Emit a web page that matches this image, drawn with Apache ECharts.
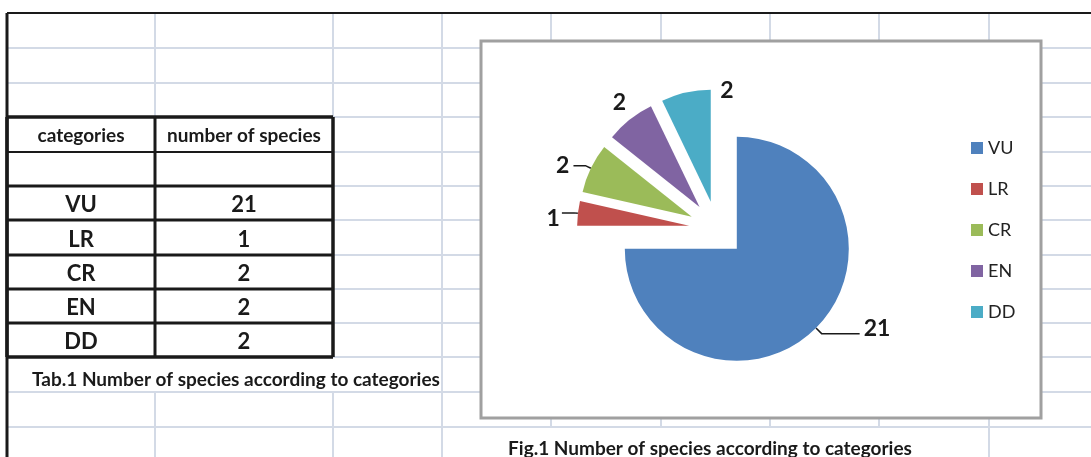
<!DOCTYPE html>
<html style="height: 100%">
<head>
    <meta charset="utf-8">
</head>
<body style="height: 100%; margin: 0; background: #fff">
<div id="container" style="height: 100%"></div>
<script src="https://cdn.jsdelivr.net/npm/echarts@6/dist/echarts.min.js"></script>
<script>
var categories = ['VU', 'LR', 'CR', 'EN', 'DD'];
var speciesCount = [21, 1, 2, 2, 2];
var tableHeader = ['categories', 'number of species'];
var tableCaption = 'Tab.1 Number of species according to categories';
var chartCaption = 'Fig.1 Number of species according to categories';

var sliceColors = ['#4f81bd', '#c0504d', '#9bbb59', '#8064a2', '#4bacc6'];
// label leader per slice [length, length2, show] and a small nudge [dx, dy]
var labelLines = [[8, 38, true], [4, 12, true], [6, 12, true], [14, 0, false], [10, 0, false]];
var labelNudge = [[0, -5], [2, 6], [0, 0], [9, -6], [54, 8]];

// spreadsheet layout in pixels
var colX = [7, 155, 333, 442, 551, 661, 770, 879, 989, 1098];
var rowY = [13, 48, 83, 117, 152, 186, 220, 255, 289, 323, 357, 392, 427, 461];
var gridColor = '#d3dae6';
var inkColor = '#1a1a1a';
var fontName = 'Lato';

var dom = document.getElementById('container');
var myChart = echarts.init(dom);
var elements = [];

function seg(x1, y1, x2, y2, color, w, z) {
    elements.push({
        type: 'line', silent: true, z: z,
        shape: {x1: x1, y1: y1, x2: x2, y2: y2},
        style: {stroke: color, lineWidth: w}
    });
}
function label(text, x, y, size, align) {
    elements.push({
        type: 'text', silent: true, z: 1,
        style: {
            text: text, x: x, y: y, fill: inkColor,
            font: 'bold ' + size + 'px ' + fontName,
            textAlign: align || 'center', textVerticalAlign: 'middle'
        }
    });
}

// sheet gridlines
for (var i = 1; i < rowY.length - 1; i++) {
    seg(colX[0], rowY[i], 1091, rowY[i], gridColor, 2, 0);
}
for (var r = 0; r < rowY.length - 1; r++) {
    for (var j = 1; j < colX.length - 1; j++) {
        if (r == 10 && j <= 2) continue;            // table caption overflows
        if (r == 12 && j >= 4 && j <= 7) continue;  // chart caption overflows
        seg(colX[j], rowY[r], colX[j], rowY[r + 1], gridColor, 2, 0);
    }
}
seg(colX[0], rowY[0], 1091, rowY[0], inkColor, 2, 1);
seg(colX[0], rowY[0], colX[0], 457, inkColor, 3, 1);

// chart area
elements.push({
    type: 'rect', silent: true, z: 1,
    shape: {x: 481, y: 41, width: 560, height: 377},
    style: {fill: '#fff', stroke: '#a0a0a0', lineWidth: 3}
});

// table
var tTop = rowY[3], tBottom = rowY[3 + 2 + categories.length];
elements.push({
    type: 'rect', silent: true, z: 0.5,
    shape: {x: colX[0], y: tTop, width: colX[2] - colX[0], height: tBottom - tTop},
    style: {fill: '#fff'}
});
for (var k = 3; k <= 3 + 2 + categories.length; k++) {
    var outer = (k == 3 || k == 3 + 2 + categories.length);
    seg(colX[0], rowY[k], colX[2], rowY[k], inkColor, outer ? 3.5 : (k == 4 ? 2 : 3), 1);
}
seg(colX[0], tTop, colX[0], tBottom, inkColor, 3.5, 1);
seg(colX[1], tTop, colX[1], tBottom, inkColor, 3, 1);
seg(colX[2], tTop, colX[2], tBottom, inkColor, 3.5, 1);

var c1 = (colX[0] + colX[1]) / 2, c2 = (colX[1] + colX[2]) / 2;
label(tableHeader[0], c1, (rowY[3] + rowY[4]) / 2 + 1, 19);
label(tableHeader[1], c2, (rowY[3] + rowY[4]) / 2 + 1, 19);
categories.forEach(function (name, n) {
    var cy = (rowY[5 + n] + rowY[6 + n]) / 2 + 2;
    label(name, c1, cy, 22);
    label(String(speciesCount[n]), c2, cy, 22);
});
label(tableCaption, 32, 380, 19, 'left');
label(chartCaption, 710, 449, 19, 'center');

var pieData = categories.map(function (name, n) {
    var ll = labelLines[n];
    return {
        name: name,
        value: speciesCount[n],
        selected: true,
        itemStyle: {color: sliceColors[n]},
        labelLine: {show: ll[2], length: ll[0], length2: ll[1]}
    };
});

option = {
    animation: false,
    graphic: {elements: elements},
    legend: {
        orient: 'vertical',
        left: 966,
        top: 134,
        icon: 'rect',
        itemWidth: 12,
        itemHeight: 12,
        itemGap: 23,
        selectedMode: false,
        data: categories,
        textStyle: {fontFamily: fontName, fontSize: 18, color: '#222', lineHeight: 18}
    },
    series: [{
        type: 'pie',
        center: [717, 229],
        radius: 112,
        startAngle: 90,
        clockwise: true,
        selectedMode: 'multiple',
        selectedOffset: 28,
        avoidLabelOverlap: false,
        z: 3,
        label: {
            show: true,
            position: 'outside',
            formatter: '{c}',
            fontFamily: fontName,
            fontWeight: 'bold',
            fontSize: 23,
            color: inkColor,
            distanceToLabelLine: 4
        },
        labelLayout: function (params) {
            var nudge = labelNudge[params.dataIndex];
            return {dx: nudge[0], dy: nudge[1]};
        },
        labelLine: {lineStyle: {color: inkColor, width: 1.5}},
        emphasis: {disabled: true},
        data: pieData
    }]
};

if (option && typeof option === 'object') {
    myChart.setOption(option, true);
}
</script>
</body>
</html>
